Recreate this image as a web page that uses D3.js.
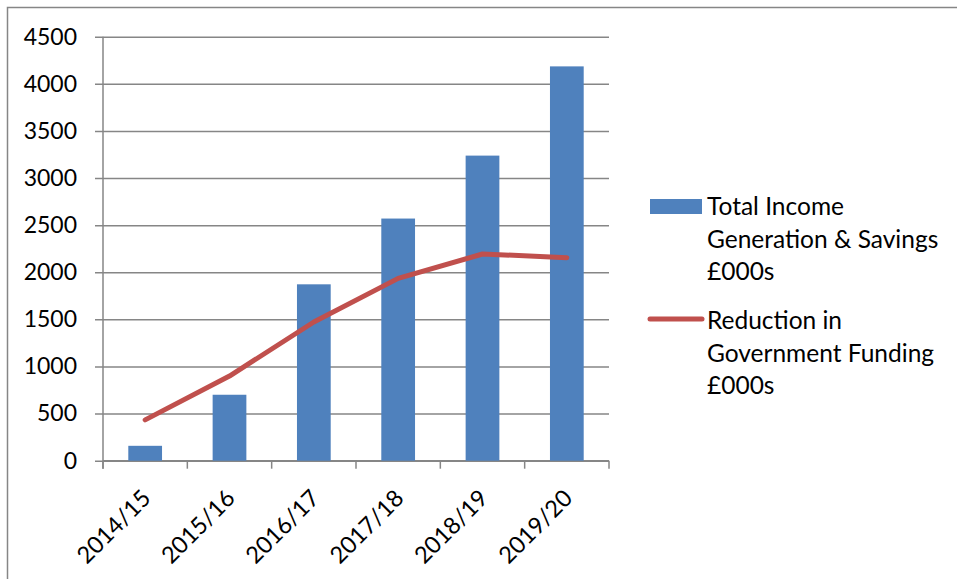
<!DOCTYPE html>
<html>
<head>
<meta charset="utf-8">
<script src="https://cdn.jsdelivr.net/npm/d3@7"></script>
<style>
  html, body { margin: 0; padding: 0; background: #fff; }
  svg { display: block; }
  text { font-family: Lato, "Open Sans", sans-serif; fill: #000; }
</style>
</head>
<body>
<script>
// Fiscal years on the category axis
const years = ["2014/15", "2015/16", "2016/17", "2017/18", "2018/19", "2019/20"];
// Total income generation & savings, £000s (bars)
const incomeSavings = [158, 700, 1872, 2570, 3238, 4185];
// Reduction in government funding, £000s (line)
const fundingReduction = [433, 898, 1472, 1935, 2194, 2155];
// Value-axis ticks
const yTicks = [0, 500, 1000, 1500, 2000, 2500, 3000, 3500, 4000, 4500];
// Legend entries
const legendBars = ["Total Income", "Generation & Savings", "£000s"];
const legendLine = ["Reduction in", "Government Funding", "£000s"];

const W = 957, H = 579;
const barColor = "#4F81BD", lineColor = "#C0504D", gridColor = "#868686";
const plot = { left: 103, right: 609, top: 36.7, bottom: 460.7 };

const svg = d3.select("body").append("svg").attr("width", W).attr("height", H);

// Chart frame (runs off the right and bottom of the view)
svg.append("rect")
  .attr("x", 7.5).attr("y", 7.5).attr("width", 1000).attr("height", 700)
  .attr("fill", "none").attr("stroke", gridColor).attr("stroke-width", 1.5);

const x = d3.scaleBand().domain(years).range([plot.left, plot.right]).paddingInner(0).paddingOuter(0);
const y = d3.scaleLinear().domain([0, 4500]).range([plot.bottom, plot.top]);

// Horizontal gridlines with outward tick marks and labels
const yAxis = d3.axisLeft(y).tickValues(yTicks).tickSize(plot.right - plot.left + 8).tickPadding(18).tickFormat(d3.format("d"));
const gy = svg.append("g").attr("transform", `translate(${plot.right},0)`).call(yAxis);
gy.select(".domain").remove();
gy.selectAll(".tick line").attr("stroke", gridColor).attr("stroke-width", 1.5);
gy.selectAll(".tick text").attr("font-size", 23).attr("fill", "#000");

// Vertical value axis line
svg.append("line")
  .attr("x1", plot.left).attr("x2", plot.left)
  .attr("y1", y(4500)).attr("y2", plot.bottom + 8)
  .attr("stroke", gridColor).attr("stroke-width", 1.5);

// Category axis: baseline plus boundary ticks
svg.append("line")
  .attr("x1", plot.left).attr("x2", plot.right)
  .attr("y1", plot.bottom).attr("y2", plot.bottom)
  .attr("stroke", gridColor).attr("stroke-width", 1.5);
const boundaries = years.map(d => x(d)).concat([x(years[years.length - 1]) + x.bandwidth()]);
svg.append("g").selectAll("line").data(boundaries).join("line")
  .attr("x1", d => d).attr("x2", d => d)
  .attr("y1", plot.bottom).attr("y2", plot.bottom + 8)
  .attr("stroke", gridColor).attr("stroke-width", 1.5);

// Bars: width = band / 2.5 (150% gap)
const bw = x.bandwidth() / 2.5;
svg.append("g").selectAll("rect").data(years).join("rect")
  .attr("x", (d) => x(d) + (x.bandwidth() - bw) / 2)
  .attr("width", bw)
  .attr("y", (d, i) => y(incomeSavings[i]))
  .attr("height", (d, i) => y(0) - y(incomeSavings[i]))
  .attr("fill", barColor);

// Line series
const line = d3.line()
  .x((d, i) => x(years[i]) + x.bandwidth() / 2)
  .y(d => y(d));
svg.append("path").datum(fundingReduction)
  .attr("d", line)
  .attr("fill", "none").attr("stroke", lineColor)
  .attr("stroke-width", 5).attr("stroke-linecap", "round").attr("stroke-linejoin", "round");

// Rotated category labels
svg.append("g").selectAll("text").data(years).join("text")
  .attr("transform", d => `translate(${x(d) + x.bandwidth() / 2 + 7},${plot.bottom + 39}) rotate(-45)`)
  .attr("text-anchor", "end")
  .attr("font-size", 23.5)
  .text(d => d);

// Legend
const lg = svg.append("g");
lg.append("rect").attr("x", 650).attr("y", 199).attr("width", 52).attr("height", 15).attr("fill", barColor);
lg.append("text").attr("x", 707).attr("y", 215).attr("font-size", 24.5)
  .selectAll("tspan").data(legendBars).join("tspan")
  .attr("x", 707).attr("dy", (d, i) => i === 0 ? 0 : 32.5).text(d => d);
lg.append("line").attr("x1", 650).attr("x2", 702).attr("y1", 319).attr("y2", 319)
  .attr("stroke", lineColor).attr("stroke-width", 5).attr("stroke-linecap", "round");
lg.append("text").attr("x", 707).attr("y", 329).attr("font-size", 24.5)
  .selectAll("tspan").data(legendLine).join("tspan")
  .attr("x", 707).attr("dy", (d, i) => i === 0 ? 0 : 32.5).text(d => d);
</script>
</body>
</html>
